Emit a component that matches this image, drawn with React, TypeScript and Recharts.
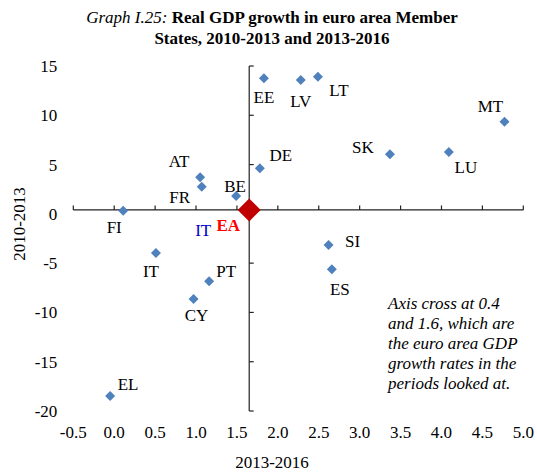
import { ReferenceLine, Scatter, ScatterChart, XAxis, YAxis } from "recharts";

// Real GDP growth (%), euro area Member States
const countries = ["EE", "LV", "LT", "MT", "SK", "LU", "DE", "AT", "FR", "BE", "FI", "IT", "PT", "CY", "EL", "SI", "ES"];
const growth2013to2016 = [1.83, 2.28, 2.49, 4.77, 3.37, 4.09, 1.78, 1.05, 1.07, 1.49, 0.11, 0.51, 1.16, 0.97, -0.05, 2.62, 2.66];
const growth2010to2013 = [13.75, 13.58, 13.92, 9.35, 6.04, 6.28, 4.62, 3.71, 2.76, 1.81, 0.32, -3.97, -6.84, -8.64, -18.48, -3.16, -5.63];

// euro area (axis cross)
const euroAreaGrowth2013to2016 = 1.65;
const euroAreaGrowth2010to2013 = 0.4;

const xTicks = [-0.5, 0, 0.5, 1, 1.5, 2, 2.5, 3, 3.5, 4, 4.5, 5];
const yTicks = [-20, -15, -10, -5, 0, 5, 10, 15];

// label offsets in px from the marker centre
const labelOffsets: Record<string, [number, number]> = {
  EE: [0, 19],
  LV: [0, 22],
  LT: [21, 14],
  MT: [-14, -15],
  SK: [-27, -7],
  LU: [17, 16],
  DE: [21, -13],
  AT: [-21, -16],
  FR: [-22, 11],
  BE: [-1, -10],
  FI: [-9, 17],
  IT: [-5, 19],
  PT: [17, -10],
  CY: [3, 16],
  EL: [18, -12],
  SI: [24, -4],
  ES: [8, 20],
};

const points = countries.map((name, i) => ({
  name,
  x: growth2013to2016[i],
  y: growth2010to2013[i],
}));
const euroArea = [{ name: "EA", x: euroAreaGrowth2013to2016, y: euroAreaGrowth2010to2013 }];

const FONT = '"Liberation Serif", "Times New Roman", serif';

function diamond(cx: number, cy: number, r: number) {
  return `${cx},${cy - r} ${cx + r},${cy} ${cx},${cy + r} ${cx - r},${cy}`;
}

function CountryMarker(props: any) {
  const { cx, cy, payload } = props;
  const [dx, dy] = labelOffsets[payload.name] ?? [0, 18];
  return (
    <g>
      <polygon points={diamond(cx, cy, 5)} fill="#4F81BD" />
      <text
        x={cx + dx}
        y={cy + dy}
        textAnchor="middle"
        dominantBaseline="central"
        fontSize={17}
        fontFamily={FONT}
        fill="#000"
      >
        {payload.name}
      </text>
    </g>
  );
}

function EuroAreaMarker(props: any) {
  const { cx, cy } = props;
  return (
    <g>
      <polygon points={diamond(cx, cy, 11.5)} fill="#C00000" />
      <text
        x={cx - 21}
        y={cy + 16}
        textAnchor="middle"
        dominantBaseline="central"
        fontSize={17}
        fontWeight="bold"
        fontFamily={FONT}
        fill="#FF0000"
      >
        EA
      </text>
      <text
        x={cx - 46}
        y={cy + 21}
        textAnchor="middle"
        dominantBaseline="central"
        fontSize={17}
        fontFamily={FONT}
        fill="#0000CC"
      >
        IT
      </text>
    </g>
  );
}

const tickStyle = { fill: "#000", fontSize: 17, fontFamily: FONT };

export default function App() {
  return (
    <div
      style={{
        position: "absolute",
        left: 0,
        top: 0,
        width: 537,
        height: 474,
        background: "#fff",
        fontFamily: FONT,
      }}
    >
      <div
        style={{
          position: "absolute",
          left: 0,
          top: 7,
          width: 544,
          textAlign: "center",
          fontSize: 17,
          lineHeight: "21px",
          color: "#000",
        }}
      >
        <i>Graph I.25:</i> <b>Real GDP growth in euro area Member</b>
        <br />
        <b>States, 2010-2013 and 2013-2016</b>
      </div>
      <div
        style={{
          position: "absolute",
          left: 388,
          top: 294,
          fontSize: 17,
          lineHeight: "20px",
          fontStyle: "italic",
          color: "#000",
          whiteSpace: "nowrap",
        }}
      >
        Axis cross at 0.4
        <br />
        and 1.6, which are
        <br />
        the euro area GDP
        <br />
        growth rates in the
        <br />
        periods looked at.
      </div>
      <ScatterChart
        width={537}
        height={474}
        margin={{ top: 66, right: 13.7, bottom: 3, left: 13.3 }}
      >
        <XAxis
          type="number"
          dataKey="x"
          domain={[-0.5, 5]}
          ticks={xTicks}
          interval={0}
          allowDataOverflow
          axisLine={false}
          tickLine={false}
          tickMargin={9}
          height={60}
          tick={tickStyle}
          tickFormatter={(v: number) => v.toFixed(1)}
          label={{
            content: (p: any) => (
              <text
                x={272}
                y={p.viewBox.y + 57}
                textAnchor="middle"
                fontSize={17}
                fontFamily={FONT}
                fill="#000"
              >
                2013-2016
              </text>
            ),
          }}
        />
        <YAxis
          type="number"
          dataKey="y"
          domain={[-20, 15]}
          ticks={yTicks}
          interval={0}
          allowDataOverflow
          axisLine={false}
          tickLine={false}
          tickMargin={10}
          width={60}
          tick={tickStyle}
          label={{
            content: (p: any) => {
              const x = 19;
              const y = 224;
              return (
                <text
                  x={x}
                  y={y}
                  transform={`rotate(-90 ${x} ${y})`}
                  textAnchor="middle"
                  dominantBaseline="central"
                  fontSize={17}
                  fontFamily={FONT}
                  fill="#000"
                >
                  2010-2013
                </text>
              );
            },
          }}
        />
        <ReferenceLine y={euroAreaGrowth2010to2013} stroke="#222" strokeWidth={1.2} />
        <ReferenceLine x={euroAreaGrowth2013to2016} stroke="#222" strokeWidth={1.2} />
        {xTicks.map((t) => (
          <ReferenceLine
            key={"xt" + t}
            segment={[
              { x: t, y: euroAreaGrowth2010to2013 },
              { x: t, y: euroAreaGrowth2010to2013 + 0.45 },
            ]}
            stroke="#222"
            strokeWidth={1.2}
          />
        ))}
        {yTicks.map((t) => (
          <ReferenceLine
            key={"yt" + t}
            segment={[
              { x: euroAreaGrowth2013to2016, y: t },
              { x: euroAreaGrowth2013to2016 + 0.055, y: t },
            ]}
            stroke="#222"
            strokeWidth={1.2}
          />
        ))}
        <Scatter data={points} shape={CountryMarker} isAnimationActive={false} />
        <Scatter data={euroArea} shape={EuroAreaMarker} isAnimationActive={false} />
      </ScatterChart>
    </div>
  );
}
